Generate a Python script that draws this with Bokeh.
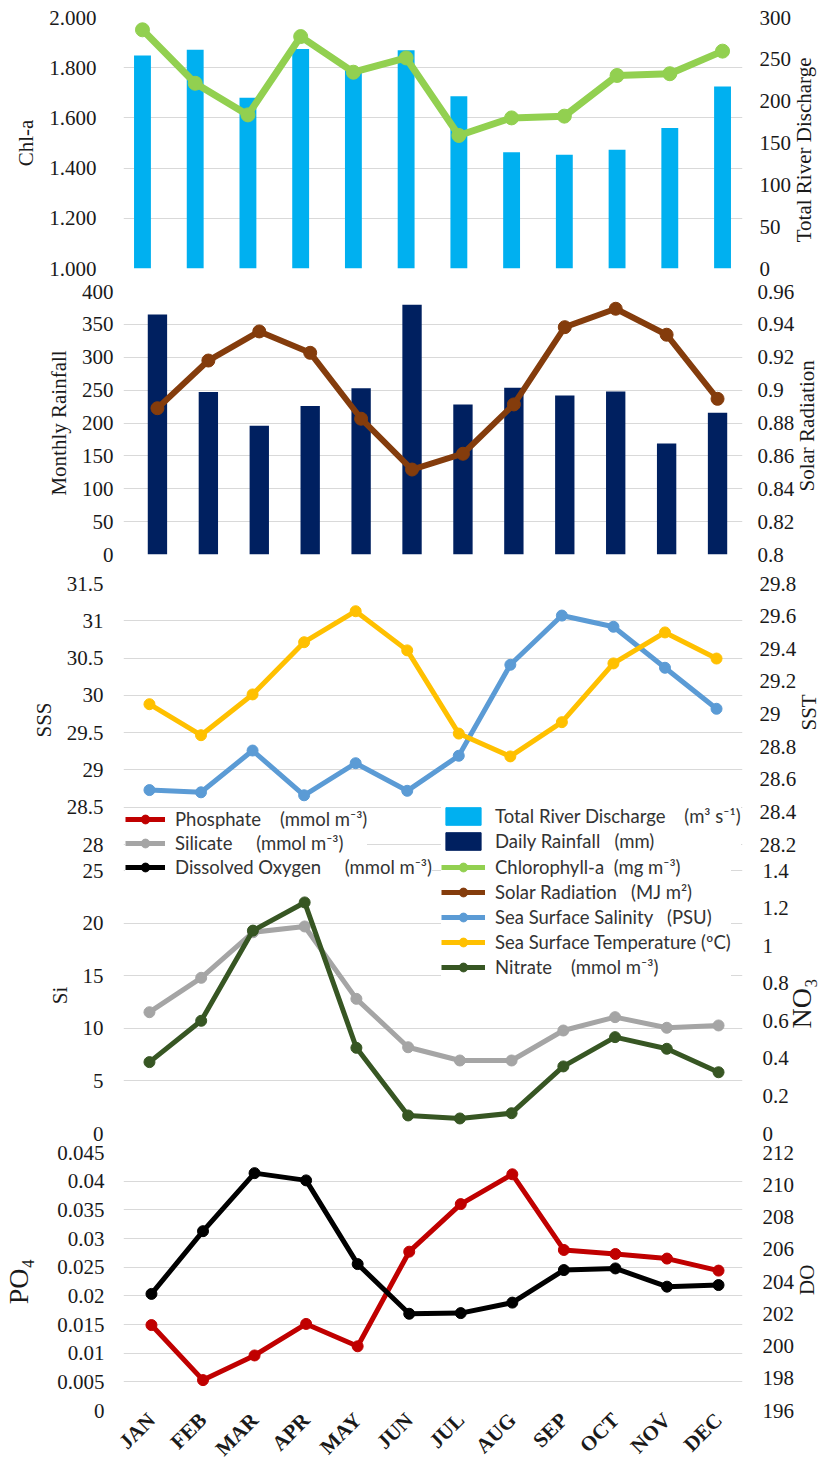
import math
from bokeh.plotting import figure
from bokeh.models import (Range1d, LinearAxis, FixedTicker, Legend, LegendItem,
                          CustomJSTickFormatter)
from bokeh.layouts import column
from bokeh.embed import file_html
from bokeh.resources import INLINE

# ---------------- data ----------------
months = ["JAN", "FEB", "MAR", "APR", "MAY", "JUN", "JUL", "AUG", "SEP", "OCT", "NOV", "DEC"]

chl_a = [1.951, 1.738, 1.612, 1.924, 1.782, 1.839, 1.530, 1.600, 1.607, 1.769, 1.776, 1.866]
river_discharge = [254.6, 261.4, 204.0, 262.5, 240.0, 261.0, 206.0, 139.0, 136.0, 142.0, 168.0, 217.5]
rainfall = [365.0, 247.0, 196.0, 226.0, 253.0, 380.0, 228.0, 253.5, 242.0, 248.0, 169.0, 215.5]
solar_radiation = [0.889, 0.918, 0.9357, 0.9227, 0.8826, 0.8517, 0.8613, 0.8913, 0.9383, 0.9495, 0.9337, 0.8947]
sss = [28.73, 28.70, 29.26, 28.66, 29.09, 28.72, 29.19, 30.41, 31.07, 30.92, 30.37, 29.82]
sst = [29.06, 28.87, 29.12, 29.44, 29.63, 29.39, 28.88, 28.74, 28.95, 29.31, 29.50, 29.34]
silicate = [11.53, 14.8, 19.13, 19.68, 12.8, 8.2, 6.94, 6.94, 9.79, 11.06, 10.05, 10.27]
nitrate = [0.38, 0.60, 1.08, 1.23, 0.456, 0.096, 0.08, 0.108, 0.357, 0.513, 0.451, 0.326]
phosphate = [0.0149, 0.0053, 0.0096, 0.0151, 0.0112, 0.0277, 0.0360, 0.0412, 0.0280, 0.0273, 0.0265, 0.0244]
dissolved_oxygen = [203.23, 207.12, 210.72, 210.27, 205.08, 202.0, 202.04, 202.69, 204.71, 204.81, 203.68, 203.78]

# tick values and labels
chl_ticks = [1.0, 1.2, 1.4, 1.6, 1.8, 2.0]
chl_labels = ["1.000", "1.200", "1.400", "1.600", "1.800", "2.000"]
trd_ticks = [0, 50, 100, 150, 200, 250, 300]
trd_labels = ["0", "50", "100", "150", "200", "250", "300"]
rain_ticks = [0, 50, 100, 150, 200, 250, 300, 350, 400]
rain_labels = ["0", "50", "100", "150", "200", "250", "300", "350", "400"]
solar_ticks = [0.8, 0.82, 0.84, 0.86, 0.88, 0.9, 0.92, 0.94, 0.96]
solar_labels = ["0.8", "0.82", "0.84", "0.86", "0.88", "0.9", "0.92", "0.94", "0.96"]
sss_ticks = [28, 28.5, 29, 29.5, 30, 30.5, 31, 31.5]
sss_labels = ["28", "28.5", "29", "29.5", "30", "30.5", "31", "31.5"]
sst_ticks = [28.2, 28.4, 28.6, 28.8, 29.0, 29.2, 29.4, 29.6, 29.8]
sst_labels = ["28.2", "28.4", "28.6", "28.8", "29", "29.2", "29.4", "29.6", "29.8"]
si_ticks = [0, 5, 10, 15, 20, 25]
si_labels = ["0", "5", "10", "15", "20", "25"]
no3_ticks = [0, 0.2, 0.4, 0.6, 0.8, 1.0, 1.2, 1.4]
no3_labels = ["0", "0.2", "0.4", "0.6", "0.8", "1", "1.2", "1.4"]
po4_ticks = [0, 0.005, 0.01, 0.015, 0.02, 0.025, 0.03, 0.035, 0.04, 0.045]
po4_labels = ["0", "0.005", "0.01", "0.015", "0.02", "0.025", "0.03", "0.035", "0.04", "0.045"]
do_ticks = [196, 198, 200, 202, 204, 206, 208, 210, 212]
do_labels = ["196", "198", "200", "202", "204", "206", "208", "210", "212"]

NB = "\u00a0"
legend_labels = {
    "phosphate": "Phosphate" + NB * 4 + "(mmol m\u207b\u00b3)",
    "silicate": "Silicate" + NB * 5 + "(mmol m\u207b\u00b3)",
    "do": "Dissolved Oxygen" + NB * 5 + "(mmol m\u207b\u00b3)",
    "trd": "Total River Discharge" + NB * 4 + "(m\u00b3 s\u207b\u00b9)",
    "rain": "Daily Rainfall" + NB * 3 + "(mm)",
    "chl": "Chlorophyll-a" + NB * 2 + "(mg m\u207b\u00b3)",
    "solar": "Solar Radiation" + NB * 3 + "(MJ m\u00b2)",
    "sss": "Sea Surface Salinity" + NB * 3 + "(PSU)",
    "sst": "Sea Surface Temperature" + NB + "(\u00baC)",
    "no3": "Nitrate" + NB * 4 + "(mmol m\u207b\u00b3)",
}

# colours
C_TRD = "#00b0f0"
C_RAIN = "#002060"
C_CHL = "#92d050"
C_SOLAR = "#843c0c"
C_SSS = "#5b9bd5"
C_SST = "#ffc000"
C_SI = "#a5a5a5"
C_NO3 = "#375623"
C_PO4 = "#c00000"
C_DO = "#000000"

TXT = "#1a1a1a"
SERIF = "Liberation Serif"
TICK_FONT = "Liberation Serif"
TICK_SIZE = "21px"
W = 837
NAN = float("nan")
FRAME_L, FRAME_R = 122, 95          # border widths (px)
FRAME_W = W - FRAME_L - FRAME_R
xs = list(range(len(months)))        # category positions


def span_range(ticks, tick_px, below_px=0, above_px=0):
    lo, hi = ticks[0], ticks[-1]
    per_px = (hi - lo) / tick_px
    return Range1d(lo - below_px * per_px, hi + above_px * per_px)


def x_range_for(first_px, last_px):
    per = (last_px - first_px) / (len(months) - 1)
    return Range1d(-(first_px - FRAME_L) / per, (len(months) - 1) + (FRAME_L + FRAME_W - last_px) / per)


def label_formatter(ticks, labels):
    return CustomJSTickFormatter(
        args=dict(vals=ticks, labs=labels),
        code="for (let i = 0; i < vals.length; i++) {"
             " if (Math.abs(vals[i] - tick) < 1e-9 * (1 + Math.abs(tick))) return labs[i]; }"
             " return '';")


def style_axis(ax, ticks, labels, standoff, label_size="21px", label_standoff=8):
    t = FixedTicker(ticks=ticks)
    ax.ticker = t
    ax.formatter = label_formatter(ticks, labels)
    ax.axis_line_color = None
    ax.major_tick_line_color = None
    ax.minor_tick_line_color = None
    ax.major_tick_out = 0
    ax.major_tick_in = 0
    ax.minor_tick_out = 0
    ax.minor_tick_in = 0
    ax.major_label_text_font = TICK_FONT
    ax.major_label_text_font_size = TICK_SIZE
    ax.major_label_text_color = TXT
    ax.major_label_standoff = standoff
    ax.axis_label_text_font = SERIF
    ax.axis_label_text_font_size = label_size
    ax.axis_label_text_font_style = "normal"
    ax.axis_label_text_color = TXT
    ax.axis_label_standoff = label_standoff
    return t


def padded_right_label(text, size_px, offset_px):
    # right-hand axis label anchored at the bottom of the axis, lifted by non-breaking spaces
    n = max(0, int(round(offset_px / (0.25 * size_px))))
    return NB * n + text


def make_panel(height, top, bottom, xpx, lticks, llabels, rticks, rlabels,
               llabel, rlabel, tick_px, lstand, rstand, r_offset,
               below_px=0, above_px=0, lsize="21px", rsize="21px", xaxis=False,
               l_lab_standoff=8):
    p = figure(width=W, height=height, x_range=x_range_for(*xpx),
               y_range=span_range(lticks, tick_px, below_px, above_px),
               x_axis_location="below" if xaxis else None,
               toolbar_location=None, output_backend="svg",
               min_border_left=FRAME_L, min_border_right=FRAME_R,
               min_border_top=top, min_border_bottom=bottom)
    p.extra_y_ranges = {"r": span_range(rticks, tick_px, below_px, above_px)}
    p.outline_line_color = None
    p.background_fill_color = "white"
    p.border_fill_color = "white"
    p.xgrid.visible = False
    lax = p.left[0]
    lax.axis_label = llabel
    t = style_axis(lax, lticks, llabels, lstand, lsize, l_lab_standoff)
    p.ygrid.ticker = t
    p.ygrid.grid_line_color = "#d9d9d9"
    p.ygrid.grid_line_width = 1
    rax = LinearAxis(y_range_name="r",
                     axis_label=padded_right_label(rlabel, int(rsize[:-2]), r_offset))
    style_axis(rax, rticks, rlabels, rstand, rsize, 10)
    try:
        rax.axis_label_orientation = math.pi / 2
        rax.axis_label_align = "start"
    except Exception:
        pass
    p.add_layout(rax, "right")
    return p


def line_series(p, y, color, lw, size, rng=None):
    kw = {} if rng is None else {"y_range_name": rng}
    l = p.line(x=xs, y=y, line_color=color, line_width=lw, **kw)
    s = p.scatter(x=xs, y=y, size=size, fill_color=color, line_color=color, **kw)
    return [l, s]


def dummy_line(p, color, lw):
    l = p.line(x=xs[:1], y=[NAN], line_color=color, line_width=lw)
    s = p.scatter(x=xs[:1], y=[NAN], size=10, fill_color=color, line_color=color)
    return [l, s]


def dummy_bar(p, color):
    return [p.vbar(x=xs[:1], top=[NAN], width=0.3, fill_color=color, line_color=color)]


def add_legend(p, items, vx, vy, gw, spacing):
    lg = Legend(items=items, location=(vx, vy), orientation="vertical",
                padding=0, margin=0, spacing=spacing,
                glyph_width=gw, glyph_height=22, label_height=22, label_standoff=10,
                label_text_font="Lato", label_text_font_size="18.5px",
                label_text_color="#333333", border_line_color=None,
                background_fill_color="white", background_fill_alpha=1.0)
    p.add_layout(lg)
    return lg


# ---------------- panel 1 ----------------
p1 = make_panel(280, 17, 12, (141, 722), chl_ticks, chl_labels, trd_ticks, trd_labels,
                "Chl-a", "Total River Discharge", 251, 27, 17, 28)
p1.vbar(x=xs, top=river_discharge, width=0.32, fill_color=C_TRD, line_color=None, y_range_name="r")
line_series(p1, chl_a, C_CHL, 7, 14)

# ---------------- panel 2 ----------------
p2 = make_panel(288, 11, 14, (156, 717), rain_ticks, rain_labels, solar_ticks, solar_labels,
                "Monthly Rainfall", "Solar Radiation", 263, 10, 15, 64)
p2.vbar(x=xs, top=rainfall, width=0.38, fill_color=C_RAIN, line_color=None)
line_series(p2, solar_radiation, C_SOLAR, 6, 13, "r")

# ---------------- panel 3 ----------------
p3 = make_panel(289, 15, 1, (148, 716), sss_ticks, sss_labels, sst_ticks, sst_labels,
                "SSS", "SST", 261, 20, 17, 126, below_px=12)
line_series(p3, sss, C_SSS, 5, 11)
line_series(p3, sst, C_SST, 5, 11, "r")
add_legend(p3, [LegendItem(label=legend_labels["phosphate"], renderers=dummy_line(p3, C_PO4, 5)),
                LegendItem(label=legend_labels["silicate"], renderers=dummy_line(p3, C_SI, 5))],
           2, 2, 40, 2)
add_legend(p3, [LegendItem(label=legend_labels["trd"], renderers=dummy_bar(p3, C_TRD)),
                LegendItem(label=legend_labels["rain"], renderers=dummy_bar(p3, C_RAIN))],
           318, 4, 44, 3)

# ---------------- panel 4 ----------------
p4 = make_panel(285, 0, 9, (148, 718), si_ticks, si_labels, no3_ticks, no3_labels,
                "Si", "NO\u2083", 263, 20, 20, 108, above_px=13, rsize="28px")
line_series(p4, silicate, C_SI, 5, 11)
no3_r = line_series(p4, nitrate, C_NO3, 5, 11, "r")
add_legend(p4, [LegendItem(label=legend_labels["do"], renderers=dummy_line(p4, C_DO, 5))],
           2, 255, 40, 2)
add_legend(p4, [LegendItem(label=legend_labels["chl"], renderers=dummy_line(p4, C_CHL, 5)),
                LegendItem(label=legend_labels["solar"], renderers=dummy_line(p4, C_SOLAR, 5)),
                LegendItem(label=legend_labels["sss"], renderers=dummy_line(p4, C_SSS, 5)),
                LegendItem(label=legend_labels["sst"], renderers=dummy_line(p4, C_SST, 5)),
                LegendItem(label=legend_labels["no3"], renderers=no3_r)],
           318, 155, 44, 3)

# ---------------- panel 5 ----------------
p5 = make_panel(329, 10, 60, (150, 718), po4_ticks, po4_labels, do_ticks, do_labels,
                "PO\u2084", "DO", 259, 19, 20, 116, lsize="28px", xaxis=True, l_lab_standoff=20)
line_series(p5, phosphate, C_PO4, 5, 11)
line_series(p5, dissolved_oxygen, C_DO, 5, 11, "r")
xa = p5.below[0]
xa.ticker = FixedTicker(ticks=xs)
xa.formatter = label_formatter(xs, months)
xa.major_label_orientation = math.pi / 4
xa.major_label_text_font = SERIF
xa.major_label_text_font_style = "bold"
xa.major_label_text_font_size = "21px"
xa.major_label_text_color = TXT
xa.major_label_standoff = 6
xa.axis_line_color = None
xa.major_tick_line_color = None
xa.minor_tick_line_color = None
xa.major_tick_out = 0
xa.major_tick_in = 0
xa.minor_tick_out = 0
xa.minor_tick_in = 0

layout = column(p1, p2, p3, p4, p5, spacing=0)

with open("out.html", "w") as f:
    f.write(file_html(layout, INLINE))
